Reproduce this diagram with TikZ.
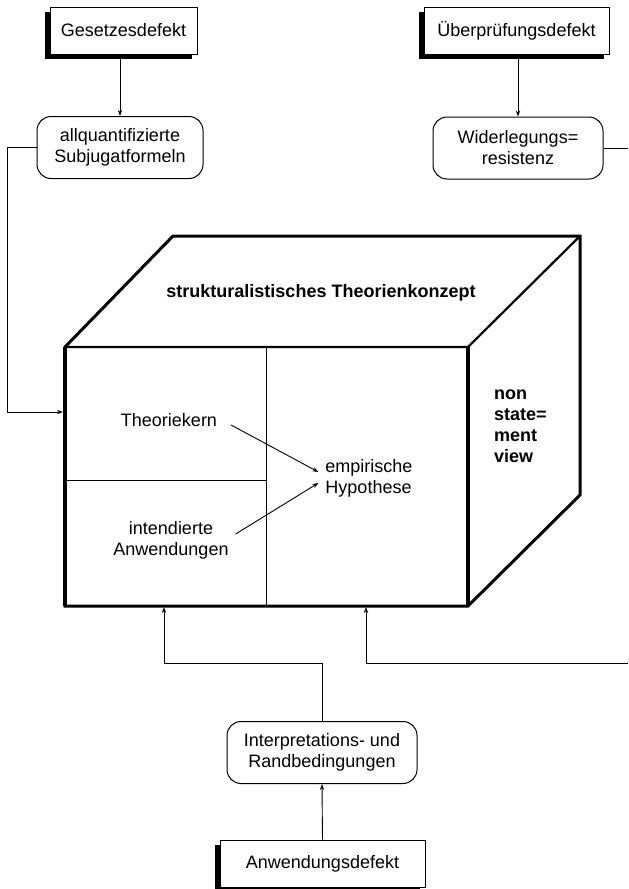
\documentclass[tikz,border=0pt]{standalone}
\usepackage{fontspec}
\setmainfont{Liberation Sans}
\usetikzlibrary{arrows.meta,shadows}

\begin{document}
\begin{tikzpicture}[x=0.5pt,y=-0.5pt,
    every node/.style={font=\fontsize{9}{10.5}\selectfont, align=center},
    defectbox/.style={draw, fill=white, line width=0.5pt, minimum height=23.5pt,
        drop shadow={shadow xshift=-2.5pt, shadow yshift=-2.5pt, fill=black, opacity=1}},
    roundbox/.style={draw, fill=white, rounded corners=7pt, line width=0.5pt, minimum height=31pt},
    link/.style={line width=0.45pt, -{Stealth[length=3pt,width=2.2pt]}},
    thinline/.style={line width=0.5pt}]
                \useasboundingbox (0,0) rectangle (628,889);
                % Defekte
                \node [defectbox, minimum width=73.5pt] (ges) at (123.5,30.5) {Gesetzesdefekt};
                \node [defectbox, minimum width=92.5pt] (ueb) at (516.5,30.5) {Überprüfungsdefekt};
                \node [defectbox, minimum width=102.5pt] (anwd) at (322.5,863.5) {Anwendungsdefekt};
                \node [roundbox, minimum width=83pt] (subj) at (120,147.5) {allquantifizierte\\Subjugatformeln};
                \node [roundbox, minimum width=85pt] (wid) at (518,148) {Widerlegungs=\\resistenz};
                \node [roundbox, minimum width=95pt] (rand) at (322,752.5) {Interpretations- und\\Randbedingungen};
                % Quader
                \coordinate (fa) at (65,347);
                \coordinate (fb) at (468,347);
                \coordinate (fc) at (468,606);
                \coordinate (fd) at (65,606);
                \coordinate (ba) at (173,236);
                \coordinate (bb) at (580,236);
                \coordinate (bc) at (580,495);
                \draw [line width=1.5pt, line join=miter] (fd) -- (fa) -- (ba) -- (bb) -- (bc) -- (fc) -- cycle;
                \draw [line width=2.2pt] (fd) -- (fa);
                \draw [line width=1.1pt] (fa) -- (fb) -- (bb);
                \draw [line width=1.6pt] (fb) -- (fc);
                \draw [thinline] (266,347) -- (266,606);
                \draw [thinline] (65,480) -- (266,480);
                \node [font=\fontsize{9}{10.5}\selectfont\bfseries] (konzept) at (321,293) {strukturalistisches Theorienkonzept};
                \node (kern) at (169,420) {Theoriekern};
                \node (anw) at (171,540) {intendierte\\Anwendungen};
                \node [align=left] (hyp) at (369,478) {empirische\\Hypothese};
                \node [align=left, anchor=north west, font=\fontsize{9}{10.5}\selectfont\bfseries] (nsv) at (487,383) {non\\state=\\ment\\view};
                \draw [link] ([shift={(3.5pt,-2.5pt)}]kern.east) -- ([yshift=3pt]hyp.west);
                \draw [link] ([yshift=3pt]anw.east) -- ([yshift=-2.5pt]hyp.west);
                % Verbindungen
                \coordinate (lbend) at (7,412);
                \coordinate (kernin) at (63,412);
                \coordinate (wout) at (628,148);
                \coordinate (lturn) at (164,663);
                \coordinate (cubel) at (164,607);
                \coordinate (rin) at (628,663);
                \coordinate (rturn) at (366,663);
                \coordinate (cuber) at (366,607);
                \draw [link] (subj.north |- ges.south) -- (subj.north);
                \draw [link] (wid.north |- ueb.south) -- (wid.north);
                \draw [link] (subj.west) -| (lbend) -- (kernin);
                \draw [thinline] (wid.east) -- (wout);
                \draw [link] (rand.north) |- (lturn) -- (cubel);
                \draw [link] (rin) -- (rturn) -- (cuber);
                \draw [link] (anwd.north) -- (rand.south);
            \end{tikzpicture}
\end{document}
